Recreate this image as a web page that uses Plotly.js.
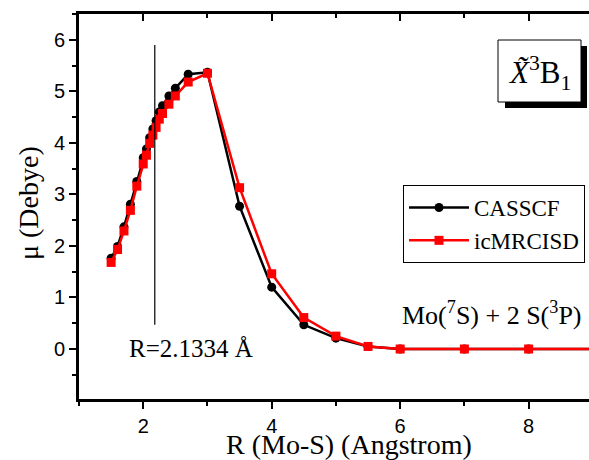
<!DOCTYPE html>
<html>
<head>
<meta charset="utf-8">
<script src="https://cdn.plot.ly/plotly-3.0.1.min.js"></script>
<style>html,body{margin:0;padding:0;background:#fff;}#chart{width:589px;height:460px;}</style>
</head>
<body>
<div id="chart"></div>
<script>
// ---- data ----
const R = [1.5, 1.6, 1.7, 1.8, 1.9, 2.0, 2.05, 2.1, 2.15, 2.2, 2.25, 2.3, 2.4, 2.5, 2.7, 3.0, 3.5, 4.0, 4.5, 5.0, 5.5, 6.0, 7.0, 8.0, 10.0];
const casscf = [1.76, 1.99, 2.37, 2.81, 3.25, 3.71, 3.88, 4.10, 4.27, 4.43, 4.60, 4.72, 4.91, 5.06, 5.33, 5.37, 2.77, 1.20, 0.47, 0.21, 0.05, 0.0, 0.0, 0.0, 0.0];
const icmrcisd = [1.68, 1.93, 2.29, 2.69, 3.16, 3.59, 3.76, 3.99, 4.15, 4.30, 4.46, 4.57, 4.75, 4.91, 5.18, 5.35, 3.13, 1.46, 0.61, 0.25, 0.05, 0.0, 0.0, 0.0, 0.0];
const seriesNames = ["CASSCF", "icMRCISD"];
const xTicks = [2, 4, 6, 8];
const yTicks = [0, 1, 2, 3, 4, 5, 6];
const Req = 2.18;            // marked equilibrium line position (as drawn)
const ReqLine = [0.47, 5.9]; // vertical extent of the marker line
const ReqLabel = "R=2.1334 Å";
const asymLabel = "Mo(<sup>7</sup>S) + 2 S(<sup>3</sup>P)";
const stateLabel = "<i>X\u0303</i><sup>3</sup>B<sub>1</sub>";
const xTitle = "R (Mo-S) (Angstrom)";
const yTitle = "\u03bc (Debye)";

// ---- layout geometry ----
const W = 589, H = 460;
const M = {l: 79, r: 0, t: 14, b: 61};
const PW = W - M.l - M.r, PH = H - M.t - M.b;
const px2x = p => (p - M.l) / PW;
const px2y = p => (H - M.b - p) / PH;

const serif = "Liberation Serif, Times New Roman, serif";
const sans = "Liberation Sans, Arial, sans-serif";

const traces = [
  {x: R, y: casscf, name: seriesNames[0], type: "scatter", mode: "lines+markers",
   line: {color: "#000000", width: 2.5}, marker: {symbol: "circle", size: 9, color: "#000000"}},
  {x: R, y: icmrcisd, name: seriesNames[1], type: "scatter", mode: "lines+markers",
   line: {color: "#ff0000", width: 2.5}, marker: {symbol: "square", size: 9, color: "#ff0000"}},
  {x: [null], y: [null], xaxis: "x2", yaxis: "y", showlegend: false, hoverinfo: "skip", mode: "markers"}
];

const xr = [1.0, 8.94], yr = [-0.97, 6.5];

const layout = {
  width: W, height: H,
  margin: M,
  paper_bgcolor: "#ffffff", plot_bgcolor: "#ffffff",
  showlegend: true,
  xaxis: {range: xr, tickvals: xTicks, ticks: "outside", ticklen: 7, tickwidth: 2, tickcolor: "#000",
          showline: true, linewidth: 3, linecolor: "#000", mirror: false, showgrid: false, zeroline: false,
          minor: {dtick: 1, tick0: 1, ticks: "outside", ticklen: 4, tickwidth: 2, tickcolor: "#000", showgrid: false},
          tickfont: {family: sans, size: 20, color: "#000"}},
  xaxis2: {range: xr, overlaying: "x", side: "top", anchor: "y", tickvals: xTicks, ticks: "inside", ticklen: 7, tickwidth: 2,
           tickcolor: "#000", showline: true, linewidth: 3, linecolor: "#000", showgrid: false, zeroline: false,
           showticklabels: false,
           minor: {dtick: 1, tick0: 1, ticks: "inside", ticklen: 4, tickwidth: 2, tickcolor: "#000", showgrid: false}},
  yaxis: {range: yr, tickvals: yTicks, ticks: "outside", ticklen: 7, tickwidth: 2, tickcolor: "#000",
          showline: true, linewidth: 3, linecolor: "#000", mirror: false, showgrid: false, zeroline: false,
          minor: {dtick: 0.5, tick0: 0, ticks: "outside", ticklen: 4, tickwidth: 2, tickcolor: "#000", showgrid: false},
          tickfont: {family: sans, size: 20, color: "#000"}},
  legend: {x: px2x(585), y: px2y(185), xanchor: "right", yanchor: "top",
           bordercolor: "#000", borderwidth: 1, bgcolor: "#fff", itemwidth: 60,
           font: {family: serif, size: 23, color: "#000"}, tracegroupgap: 0},
  shapes: [
    {type: "line", xref: "x", yref: "y", x0: Req, x1: Req, y0: ReqLine[0], y1: ReqLine[1],
     line: {color: "#000", width: 1.2}},
    {type: "rect", xref: "paper", yref: "paper", x0: px2x(505), x1: px2x(587), y0: px2y(108), y1: px2y(46),
     fillcolor: "#000", line: {width: 0}},
    {type: "rect", xref: "paper", yref: "paper", x0: px2x(498), x1: px2x(581), y0: px2y(102), y1: px2y(40),
     fillcolor: "#fff", line: {color: "#000", width: 1}}
  ],
  annotations: [
    {text: ReqLabel, xref: "paper", yref: "paper", x: px2x(191), y: px2y(348), showarrow: false,
     xanchor: "center", yanchor: "middle", font: {family: serif, size: 25, color: "#000"}},
    {text: asymLabel, xref: "paper", yref: "paper", x: px2x(492), y: px2y(313), showarrow: false,
     xanchor: "center", yanchor: "middle", font: {family: serif, size: 26, color: "#000"}},
    {text: stateLabel, xref: "paper", yref: "paper", x: px2x(539), y: px2y(73), showarrow: false,
     xanchor: "center", yanchor: "middle", font: {family: serif, size: 31, color: "#000"}},
    {text: xTitle, xref: "paper", yref: "paper", x: px2x(348.5), y: px2y(444), showarrow: false,
     xanchor: "center", yanchor: "middle", font: {family: serif, size: 28, color: "#000"}},
    {text: yTitle, xref: "paper", yref: "paper", x: px2x(28), y: px2y(203), showarrow: false, textangle: -90,
     xanchor: "center", yanchor: "middle", font: {family: serif, size: 28, color: "#000"}}
  ]
};

Plotly.newPlot("chart", traces, layout, {staticPlot: true, displayModeBar: false});
</script>
</body>
</html>
